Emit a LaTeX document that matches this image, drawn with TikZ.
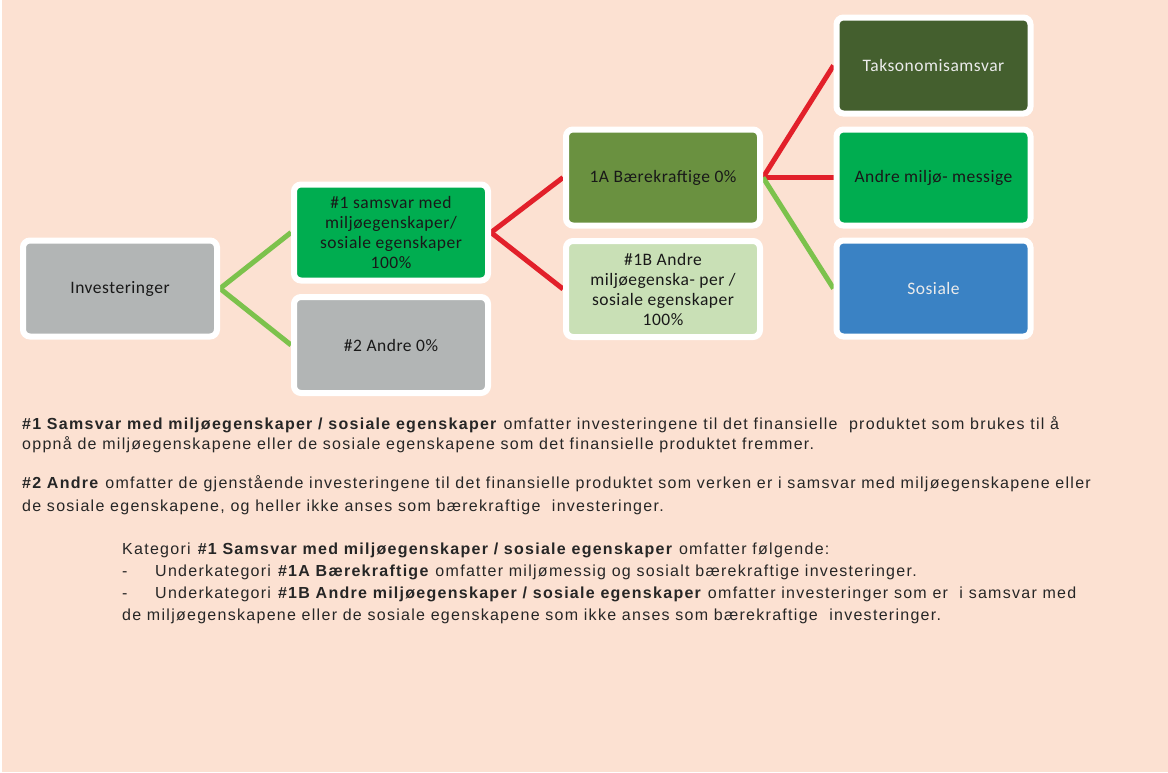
\documentclass[tikz,border=0pt]{standalone}
\usepackage{fontspec}
\setmainfont{Liberation Sans}[LetterSpace=8]
\newfontfamily\boxfont{Carlito}[LetterSpace=3]
\usetikzlibrary{backgrounds}

\definecolor{peach}{HTML}{FCE1D2}
\definecolor{invgray}{HTML}{B2B5B5}
\definecolor{samgreen}{HTML}{00AD50}
\definecolor{olive}{HTML}{6A9140}
\definecolor{darkolive}{HTML}{445F2E}
\definecolor{palegreen}{HTML}{C9E0B6}
\definecolor{socblue}{HTML}{3A82C4}
\definecolor{linered}{HTML}{E2202A}
\definecolor{linegreen}{HTML}{7CC24C}

\begin{document}
\begin{tikzpicture}
		[x=1pt,y=-1pt,
		box/.style={shape=rectangle,rounded corners=7pt,draw=white,
			line width=6pt,minimum width=194pt,minimum height=96pt,
			inner sep=2pt,align=center,text=black!90,
			font=\boxfont\fontsize{17.5}{20}\selectfont},
		link/.style={line width=5pt},
		bodytext/.style={anchor=base west,inner sep=0pt,align=left,
			font=\fontsize{16}{22}\selectfont,text=black!85}]
		\useasboundingbox (0,0) rectangle (1168,772);
		% boxes
		\node[box,fill=invgray] (inv) at (120,288.5) {Investeringer};
		\node[box,fill=samgreen] (s1) at (391,232.5) {\#1 samsvar med\\ milj{\o}egenskaper/\\ sosiale egenskaper\\ 100\%};
		\node[box,fill=invgray] (s2) at (391,345) {\#2 Andre 0\%};
		\node[box,fill=olive] (s1a) at (663,177.5) {1A B{\ae}rekraftige 0\%};
		\node[box,fill=palegreen] (s1b) at (663,289) {\#1B Andre\\ milj{\o}egenska- per /\\ sosiale egenskaper\\ 100\%};
		\node[box,fill=darkolive,text=white!92!black] (tax) at (933.5,65.5) {Taksonomisamsvar};
		\node[box,fill=samgreen] (env) at (933.5,177.5) {Andre milj{\o}- messige};
		\node[box,fill=socblue,text=white!92!black] (soc) at (933.5,288.5) {Sosiale};
		\begin{pgfonlayer}{background}
		\fill[peach] (2,0) rectangle (1168,772);
		\path
		\foreach \startNode/\endNode in {inv/s1, inv/s2}
		{
			(\startNode.east) edge[link,linegreen] (\endNode.west)
		};
		\path
		\foreach \startNode/\endNode in {s1/s1a, s1/s1b, s1a/tax, s1a/env}
		{
			(\startNode.east) edge[link,linered] (\endNode.west)
		};
		\path (s1a.east) edge[link,linegreen] (soc.west);
		\end{pgfonlayer}
		% explanations (anchored at the baseline of the last line)
		\node[bodytext] (p1) at (22,449) {\textbf{\#1 Samsvar med milj{\o}egenskaper / sosiale egenskaper} omfatter investeringene til det finansielle \ produktet som brukes til {\aa}\\[-2pt]
			oppn{\aa} de milj{\o}egenskapene eller de sosiale egenskapene som det finansielle produktet fremmer.};
		\node[bodytext] (p2) at (22,511) {\textbf{\#2 Andre} omfatter de gjenst{\aa}ende investeringene til det finansielle produktet som verken er i samsvar med milj{\o}egenskapene eller\\[1pt]
			de sosiale egenskapene, og heller ikke anses som b{\ae}rekraftige \ investeringer.};
		\node[bodytext] (p3) at (122,620) {Kategori \textbf{\#1 Samsvar med milj{\o}egenskaper / sosiale egenskaper} omfatter f{\o}lgende:\\
			\makebox[33pt][l]{-}Underkategori \textbf{\#1A B{\ae}rekraftige} omfatter milj{\o}messig og sosialt b{\ae}rekraftige investeringer.\\
			\makebox[33pt][l]{-}Underkategori \textbf{\#1B Andre milj{\o}egenskaper / sosiale egenskaper} omfatter investeringer som er \ i samsvar med\\
			de milj{\o}egenskapene eller de sosiale egenskapene som ikke anses som b{\ae}rekraftige \ investeringer.};
\end{tikzpicture}
\end{document}
